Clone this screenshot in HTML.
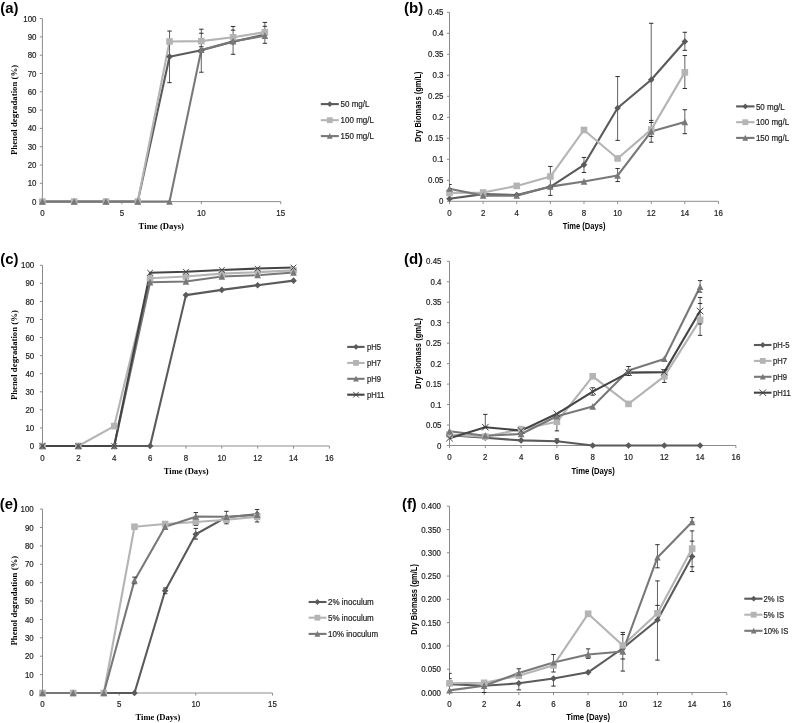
<!DOCTYPE html>
<html><head><meta charset="utf-8"><style>
html,body{margin:0;padding:0;background:#fff;}
svg{display:block;filter:grayscale(1);}

</style></head><body>
<svg width="793" height="723" viewBox="0 0 793 723">
<rect width="793" height="723" fill="#fff"/>
<text x="0.2" y="12.6" textLength="18.20" lengthAdjust="spacingAndGlyphs" font-family="Liberation Sans, sans-serif" font-weight="bold" font-size="14" fill="#000">(a)</text>
<path d="M42.40 18.60V201.60H280.75" stroke="#8c8c8c" stroke-width="1" fill="none"/>
<path d="M39.80 201.60H42.40M39.80 183.30H42.40M39.80 165.00H42.40M39.80 146.70H42.40M39.80 128.40H42.40M39.80 110.10H42.40M39.80 91.80H42.40M39.80 73.50H42.40M39.80 55.20H42.40M39.80 36.90H42.40M39.80 18.60H42.40M42.40 201.60V204.20M121.85 201.60V204.20M201.30 201.60V204.20M280.75 201.60V204.20" stroke="#8c8c8c" stroke-width="1" fill="none"/>
<text transform="translate(36.50 204.68) scale(0.9 1)" text-anchor="end" font-family="Liberation Sans, sans-serif" font-size="8.8" fill="#222222" stroke="#222" stroke-width="0.2">0</text>
<text transform="translate(36.50 186.38) scale(0.9 1)" text-anchor="end" font-family="Liberation Sans, sans-serif" font-size="8.8" fill="#222222" stroke="#222" stroke-width="0.2">10</text>
<text transform="translate(36.50 168.08) scale(0.9 1)" text-anchor="end" font-family="Liberation Sans, sans-serif" font-size="8.8" fill="#222222" stroke="#222" stroke-width="0.2">20</text>
<text transform="translate(36.50 149.78) scale(0.9 1)" text-anchor="end" font-family="Liberation Sans, sans-serif" font-size="8.8" fill="#222222" stroke="#222" stroke-width="0.2">30</text>
<text transform="translate(36.50 131.48) scale(0.9 1)" text-anchor="end" font-family="Liberation Sans, sans-serif" font-size="8.8" fill="#222222" stroke="#222" stroke-width="0.2">40</text>
<text transform="translate(36.50 113.18) scale(0.9 1)" text-anchor="end" font-family="Liberation Sans, sans-serif" font-size="8.8" fill="#222222" stroke="#222" stroke-width="0.2">50</text>
<text transform="translate(36.50 94.88) scale(0.9 1)" text-anchor="end" font-family="Liberation Sans, sans-serif" font-size="8.8" fill="#222222" stroke="#222" stroke-width="0.2">60</text>
<text transform="translate(36.50 76.58) scale(0.9 1)" text-anchor="end" font-family="Liberation Sans, sans-serif" font-size="8.8" fill="#222222" stroke="#222" stroke-width="0.2">70</text>
<text transform="translate(36.50 58.28) scale(0.9 1)" text-anchor="end" font-family="Liberation Sans, sans-serif" font-size="8.8" fill="#222222" stroke="#222" stroke-width="0.2">80</text>
<text transform="translate(36.50 39.98) scale(0.9 1)" text-anchor="end" font-family="Liberation Sans, sans-serif" font-size="8.8" fill="#222222" stroke="#222" stroke-width="0.2">90</text>
<text transform="translate(36.50 21.68) scale(0.9 1)" text-anchor="end" font-family="Liberation Sans, sans-serif" font-size="8.8" fill="#222222" stroke="#222" stroke-width="0.2">100</text>
<text transform="translate(42.40 216.18) scale(0.9 1)" text-anchor="middle" font-family="Liberation Sans, sans-serif" font-size="8.8" fill="#222222" stroke="#222" stroke-width="0.2">0</text>
<text transform="translate(121.85 216.18) scale(0.9 1)" text-anchor="middle" font-family="Liberation Sans, sans-serif" font-size="8.8" fill="#222222" stroke="#222" stroke-width="0.2">5</text>
<text transform="translate(201.30 216.18) scale(0.9 1)" text-anchor="middle" font-family="Liberation Sans, sans-serif" font-size="8.8" fill="#222222" stroke="#222" stroke-width="0.2">10</text>
<text transform="translate(280.75 216.18) scale(0.9 1)" text-anchor="middle" font-family="Liberation Sans, sans-serif" font-size="8.8" fill="#222222" stroke="#222" stroke-width="0.2">15</text>
<text x="138.60" y="229.07" textLength="45.40" lengthAdjust="spacingAndGlyphs" font-family="Liberation Serif, serif" font-weight="bold" font-size="8.7" fill="#000">Time (Days)</text>
<text transform="translate(17.44 109.95) rotate(-90)" x="-45.15" y="0" textLength="90.30" lengthAdjust="spacingAndGlyphs" font-family="Liberation Serif, serif" font-weight="bold" font-size="9.2" fill="#000">Phenol degradation (%)</text>
<polyline points="42.40,201.60 74.18,201.60 105.96,201.60 137.74,201.60 169.52,56.66 201.30,50.26 233.08,41.84 264.86,34.52" stroke="#5a5a5a" stroke-width="2.1" fill="none" stroke-linejoin="round"/>
<polyline points="42.40,201.60 74.18,201.60 105.96,201.60 137.74,201.60 169.52,41.47 201.30,41.11 233.08,37.27 264.86,32.14" stroke="#b4b4b4" stroke-width="2.1" fill="none" stroke-linejoin="round"/>
<polyline points="42.40,201.60 74.18,201.60 105.96,201.60 137.74,201.60 169.52,201.60 201.30,49.89 233.08,41.29 264.86,35.80" stroke="#787878" stroke-width="2.1" fill="none" stroke-linejoin="round"/>
<path d="M169.52 31.04V82.65M201.30 29.21V72.22M233.08 26.47V54.28M264.86 22.44V43.30" stroke="#3a3a3a" stroke-width="0.8" fill="none"/>
<path d="M167.32 82.65H171.72M167.32 31.04H171.72M199.10 72.22H203.50M199.10 33.24H203.50M199.10 29.21H203.50M199.10 46.78H203.50M230.88 54.28H235.28M230.88 30.13H235.28M230.88 26.47H235.28M262.66 43.30H267.06M262.66 26.29H267.06M262.66 22.44H267.06" stroke="#1a1a1a" stroke-width="0.9" fill="none"/>
<path d="M42.40 198.30L45.70 201.60L42.40 204.90L39.10 201.60Z" fill="#5a5a5a"/>
<path d="M74.18 198.30L77.48 201.60L74.18 204.90L70.88 201.60Z" fill="#5a5a5a"/>
<path d="M105.96 198.30L109.26 201.60L105.96 204.90L102.66 201.60Z" fill="#5a5a5a"/>
<path d="M137.74 198.30L141.04 201.60L137.74 204.90L134.44 201.60Z" fill="#5a5a5a"/>
<path d="M169.52 53.36L172.82 56.66L169.52 59.96L166.22 56.66Z" fill="#5a5a5a"/>
<path d="M201.30 46.96L204.60 50.26L201.30 53.56L198.00 50.26Z" fill="#5a5a5a"/>
<path d="M233.08 38.54L236.38 41.84L233.08 45.14L229.78 41.84Z" fill="#5a5a5a"/>
<path d="M264.86 31.22L268.16 34.52L264.86 37.82L261.56 34.52Z" fill="#5a5a5a"/>
<rect x="39.10" y="198.30" width="6.60" height="6.60" fill="#b4b4b4"/>
<rect x="70.88" y="198.30" width="6.60" height="6.60" fill="#b4b4b4"/>
<rect x="102.66" y="198.30" width="6.60" height="6.60" fill="#b4b4b4"/>
<rect x="134.44" y="198.30" width="6.60" height="6.60" fill="#b4b4b4"/>
<rect x="166.22" y="38.17" width="6.60" height="6.60" fill="#b4b4b4"/>
<rect x="198.00" y="37.81" width="6.60" height="6.60" fill="#b4b4b4"/>
<rect x="229.78" y="33.97" width="6.60" height="6.60" fill="#b4b4b4"/>
<rect x="261.56" y="28.84" width="6.60" height="6.60" fill="#b4b4b4"/>
<path d="M42.40 198.13L45.70 204.73L39.10 204.73Z" fill="#787878"/>
<path d="M74.18 198.13L77.48 204.73L70.88 204.73Z" fill="#787878"/>
<path d="M105.96 198.13L109.26 204.73L102.66 204.73Z" fill="#787878"/>
<path d="M137.74 198.13L141.04 204.73L134.44 204.73Z" fill="#787878"/>
<path d="M169.52 198.13L172.82 204.73L166.22 204.73Z" fill="#787878"/>
<path d="M201.30 46.43L204.60 53.03L198.00 53.03Z" fill="#787878"/>
<path d="M233.08 37.83L236.38 44.43L229.78 44.43Z" fill="#787878"/>
<path d="M264.86 32.34L268.16 38.94L261.56 38.94Z" fill="#787878"/>
<path d="M320.80 104.10H338.80" stroke="#5a5a5a" stroke-width="2.1"/>
<path d="M329.80 101.20L332.70 104.10L329.80 107.00L326.90 104.10Z" fill="#5a5a5a"/>
<text transform="translate(340.60 107.25) scale(0.89 1)" font-family="Liberation Sans, sans-serif" font-size="9" fill="#222222" stroke="#222" stroke-width="0.2">50 mg/L</text>
<path d="M320.80 120.20H338.80" stroke="#b4b4b4" stroke-width="2.1"/>
<rect x="326.90" y="117.30" width="5.80" height="5.80" fill="#b4b4b4"/>
<text transform="translate(340.60 123.35) scale(0.89 1)" font-family="Liberation Sans, sans-serif" font-size="9" fill="#222222" stroke="#222" stroke-width="0.2">100 mg/L</text>
<path d="M320.80 136.10H338.80" stroke="#787878" stroke-width="2.1"/>
<path d="M329.80 133.06L332.70 138.85L326.90 138.85Z" fill="#787878"/>
<text transform="translate(340.60 139.25) scale(0.89 1)" font-family="Liberation Sans, sans-serif" font-size="9" fill="#222222" stroke="#222" stroke-width="0.2">150 mg/L</text>
<text x="404.0" y="13.0" textLength="19.30" lengthAdjust="spacingAndGlyphs" font-family="Liberation Sans, sans-serif" font-weight="bold" font-size="14" fill="#000">(b)</text>
<path d="M449.50 12.30V201.30H718.46" stroke="#8c8c8c" stroke-width="1" fill="none"/>
<path d="M446.90 201.30H449.50M446.90 180.30H449.50M446.90 159.30H449.50M446.90 138.30H449.50M446.90 117.30H449.50M446.90 96.30H449.50M446.90 75.30H449.50M446.90 54.30H449.50M446.90 33.30H449.50M446.90 12.30H449.50M449.50 201.30V203.90M483.12 201.30V203.90M516.74 201.30V203.90M550.36 201.30V203.90M583.98 201.30V203.90M617.60 201.30V203.90M651.22 201.30V203.90M684.84 201.30V203.90M718.46 201.30V203.90" stroke="#8c8c8c" stroke-width="1" fill="none"/>
<text transform="translate(443.50 204.38) scale(0.9 1)" text-anchor="end" font-family="Liberation Sans, sans-serif" font-size="8.8" fill="#222222" stroke="#222" stroke-width="0.2">0</text>
<text transform="translate(443.50 183.38) scale(0.9 1)" text-anchor="end" font-family="Liberation Sans, sans-serif" font-size="8.8" fill="#222222" stroke="#222" stroke-width="0.2">0.05</text>
<text transform="translate(443.50 162.38) scale(0.9 1)" text-anchor="end" font-family="Liberation Sans, sans-serif" font-size="8.8" fill="#222222" stroke="#222" stroke-width="0.2">0.1</text>
<text transform="translate(443.50 141.38) scale(0.9 1)" text-anchor="end" font-family="Liberation Sans, sans-serif" font-size="8.8" fill="#222222" stroke="#222" stroke-width="0.2">0.15</text>
<text transform="translate(443.50 120.38) scale(0.9 1)" text-anchor="end" font-family="Liberation Sans, sans-serif" font-size="8.8" fill="#222222" stroke="#222" stroke-width="0.2">0.2</text>
<text transform="translate(443.50 99.38) scale(0.9 1)" text-anchor="end" font-family="Liberation Sans, sans-serif" font-size="8.8" fill="#222222" stroke="#222" stroke-width="0.2">0.25</text>
<text transform="translate(443.50 78.38) scale(0.9 1)" text-anchor="end" font-family="Liberation Sans, sans-serif" font-size="8.8" fill="#222222" stroke="#222" stroke-width="0.2">0.3</text>
<text transform="translate(443.50 57.38) scale(0.9 1)" text-anchor="end" font-family="Liberation Sans, sans-serif" font-size="8.8" fill="#222222" stroke="#222" stroke-width="0.2">0.35</text>
<text transform="translate(443.50 36.38) scale(0.9 1)" text-anchor="end" font-family="Liberation Sans, sans-serif" font-size="8.8" fill="#222222" stroke="#222" stroke-width="0.2">0.4</text>
<text transform="translate(443.50 15.38) scale(0.9 1)" text-anchor="end" font-family="Liberation Sans, sans-serif" font-size="8.8" fill="#222222" stroke="#222" stroke-width="0.2">0.45</text>
<text transform="translate(449.50 216.38) scale(0.9 1)" text-anchor="middle" font-family="Liberation Sans, sans-serif" font-size="8.8" fill="#222222" stroke="#222" stroke-width="0.2">0</text>
<text transform="translate(483.12 216.38) scale(0.9 1)" text-anchor="middle" font-family="Liberation Sans, sans-serif" font-size="8.8" fill="#222222" stroke="#222" stroke-width="0.2">2</text>
<text transform="translate(516.74 216.38) scale(0.9 1)" text-anchor="middle" font-family="Liberation Sans, sans-serif" font-size="8.8" fill="#222222" stroke="#222" stroke-width="0.2">4</text>
<text transform="translate(550.36 216.38) scale(0.9 1)" text-anchor="middle" font-family="Liberation Sans, sans-serif" font-size="8.8" fill="#222222" stroke="#222" stroke-width="0.2">6</text>
<text transform="translate(583.98 216.38) scale(0.9 1)" text-anchor="middle" font-family="Liberation Sans, sans-serif" font-size="8.8" fill="#222222" stroke="#222" stroke-width="0.2">8</text>
<text transform="translate(617.60 216.38) scale(0.9 1)" text-anchor="middle" font-family="Liberation Sans, sans-serif" font-size="8.8" fill="#222222" stroke="#222" stroke-width="0.2">10</text>
<text transform="translate(651.22 216.38) scale(0.9 1)" text-anchor="middle" font-family="Liberation Sans, sans-serif" font-size="8.8" fill="#222222" stroke="#222" stroke-width="0.2">12</text>
<text transform="translate(684.84 216.38) scale(0.9 1)" text-anchor="middle" font-family="Liberation Sans, sans-serif" font-size="8.8" fill="#222222" stroke="#222" stroke-width="0.2">14</text>
<text transform="translate(718.46 216.38) scale(0.9 1)" text-anchor="middle" font-family="Liberation Sans, sans-serif" font-size="8.8" fill="#222222" stroke="#222" stroke-width="0.2">16</text>
<text x="562.80" y="229.47" textLength="42.60" lengthAdjust="spacingAndGlyphs" font-family="Liberation Sans, sans-serif" font-weight="bold" font-size="8.4" fill="#000">Time (Days)</text>
<text transform="translate(421.07 106.75) rotate(-90)" x="-35.35" y="0" textLength="70.70" lengthAdjust="spacingAndGlyphs" font-family="Liberation Sans, sans-serif" font-weight="bold" font-size="8.4" fill="#000">Dry Biomass (gm/L)</text>
<polyline points="449.50,198.78 483.12,194.16 516.74,195.00 550.36,186.81 583.98,164.76 617.60,108.06 651.22,79.71 684.84,41.49" stroke="#5a5a5a" stroke-width="2.1" fill="none" stroke-linejoin="round"/>
<polyline points="449.50,192.90 483.12,192.48 516.74,185.89 550.36,176.52 583.98,129.98 617.60,158.46 651.22,129.61 684.84,72.36" stroke="#b4b4b4" stroke-width="2.1" fill="none" stroke-linejoin="round"/>
<polyline points="449.50,188.70 483.12,195.63 516.74,195.63 550.36,186.60 583.98,181.56 617.60,175.51 651.22,131.58 684.84,122.09" stroke="#787878" stroke-width="2.1" fill="none" stroke-linejoin="round"/>
<path d="M449.50 184.50V188.70M550.36 166.44V195.42M583.98 157.41V172.49M617.60 76.56V140.40M617.60 168.54V181.56M651.22 23.30V142.21M684.84 32.29V50.31M684.84 55.56V88.49M684.84 109.74V133.68" stroke="#3a3a3a" stroke-width="0.8" fill="none"/>
<path d="M449.50 184.50H451.70M449.50 188.70H451.70M548.16 166.44H552.56M548.16 195.42H552.56M581.78 157.41H586.18M581.78 172.49H586.18M615.40 76.56H619.80M615.40 140.40H619.80M615.40 168.54H619.80M615.40 181.56H619.80M649.02 23.30H653.42M649.02 120.41H653.42M649.02 122.51H653.42M649.02 136.41H653.42M649.02 142.21H653.42M682.64 32.29H687.04M682.64 50.31H687.04M682.64 55.56H687.04M682.64 88.49H687.04M682.64 109.74H687.04M682.64 133.68H687.04" stroke="#1a1a1a" stroke-width="0.9" fill="none"/>
<path d="M449.50 195.48L452.80 198.78L449.50 202.08L446.20 198.78Z" fill="#5a5a5a"/>
<path d="M483.12 190.86L486.42 194.16L483.12 197.46L479.82 194.16Z" fill="#5a5a5a"/>
<path d="M516.74 191.70L520.04 195.00L516.74 198.30L513.44 195.00Z" fill="#5a5a5a"/>
<path d="M550.36 183.51L553.66 186.81L550.36 190.11L547.06 186.81Z" fill="#5a5a5a"/>
<path d="M583.98 161.46L587.28 164.76L583.98 168.06L580.68 164.76Z" fill="#5a5a5a"/>
<path d="M617.60 104.76L620.90 108.06L617.60 111.36L614.30 108.06Z" fill="#5a5a5a"/>
<path d="M651.22 76.41L654.52 79.71L651.22 83.01L647.92 79.71Z" fill="#5a5a5a"/>
<path d="M684.84 38.19L688.14 41.49L684.84 44.79L681.54 41.49Z" fill="#5a5a5a"/>
<rect x="446.20" y="189.60" width="6.60" height="6.60" fill="#b4b4b4"/>
<rect x="479.82" y="189.18" width="6.60" height="6.60" fill="#b4b4b4"/>
<rect x="513.44" y="182.59" width="6.60" height="6.60" fill="#b4b4b4"/>
<rect x="547.06" y="173.22" width="6.60" height="6.60" fill="#b4b4b4"/>
<rect x="580.68" y="126.68" width="6.60" height="6.60" fill="#b4b4b4"/>
<rect x="614.30" y="155.16" width="6.60" height="6.60" fill="#b4b4b4"/>
<rect x="647.92" y="126.31" width="6.60" height="6.60" fill="#b4b4b4"/>
<rect x="681.54" y="69.06" width="6.60" height="6.60" fill="#b4b4b4"/>
<path d="M449.50 185.24L452.80 191.84L446.20 191.84Z" fill="#787878"/>
<path d="M483.12 192.17L486.42 198.77L479.82 198.77Z" fill="#787878"/>
<path d="M516.74 192.17L520.04 198.77L513.44 198.77Z" fill="#787878"/>
<path d="M550.36 183.14L553.66 189.74L547.06 189.74Z" fill="#787878"/>
<path d="M583.98 178.09L587.28 184.69L580.68 184.69Z" fill="#787878"/>
<path d="M617.60 172.05L620.90 178.65L614.30 178.65Z" fill="#787878"/>
<path d="M651.22 128.12L654.52 134.72L647.92 134.72Z" fill="#787878"/>
<path d="M684.84 118.62L688.14 125.22L681.54 125.22Z" fill="#787878"/>
<path d="M736.10 106.40H754.50" stroke="#5a5a5a" stroke-width="2.1"/>
<path d="M745.30 103.50L748.20 106.40L745.30 109.30L742.40 106.40Z" fill="#5a5a5a"/>
<text transform="translate(755.90 109.55) scale(0.89 1)" font-family="Liberation Sans, sans-serif" font-size="9" fill="#222222" stroke="#222" stroke-width="0.2">50 mg/L</text>
<path d="M736.10 122.20H754.50" stroke="#b4b4b4" stroke-width="2.1"/>
<rect x="742.40" y="119.30" width="5.80" height="5.80" fill="#b4b4b4"/>
<text transform="translate(755.90 125.35) scale(0.89 1)" font-family="Liberation Sans, sans-serif" font-size="9" fill="#222222" stroke="#222" stroke-width="0.2">100 mg/L</text>
<path d="M736.10 137.90H754.50" stroke="#787878" stroke-width="2.1"/>
<path d="M745.30 134.86L748.20 140.66L742.40 140.66Z" fill="#787878"/>
<text transform="translate(755.90 141.05) scale(0.89 1)" font-family="Liberation Sans, sans-serif" font-size="9" fill="#222222" stroke="#222" stroke-width="0.2">150 mg/L</text>
<text x="0.2" y="264.0" textLength="18.20" lengthAdjust="spacingAndGlyphs" font-family="Liberation Sans, sans-serif" font-weight="bold" font-size="14" fill="#000">(c)</text>
<path d="M42.50 265.30V446.00H329.38" stroke="#8c8c8c" stroke-width="1" fill="none"/>
<path d="M39.90 446.00H42.50M39.90 427.93H42.50M39.90 409.86H42.50M39.90 391.79H42.50M39.90 373.72H42.50M39.90 355.65H42.50M39.90 337.58H42.50M39.90 319.51H42.50M39.90 301.44H42.50M39.90 283.37H42.50M39.90 265.30H42.50M42.50 446.00V448.60M78.36 446.00V448.60M114.22 446.00V448.60M150.08 446.00V448.60M185.94 446.00V448.60M221.80 446.00V448.60M257.66 446.00V448.60M293.52 446.00V448.60M329.38 446.00V448.60" stroke="#8c8c8c" stroke-width="1" fill="none"/>
<text transform="translate(34.20 449.08) scale(0.9 1)" text-anchor="end" font-family="Liberation Sans, sans-serif" font-size="8.8" fill="#222222" stroke="#222" stroke-width="0.2">0</text>
<text transform="translate(34.20 431.01) scale(0.9 1)" text-anchor="end" font-family="Liberation Sans, sans-serif" font-size="8.8" fill="#222222" stroke="#222" stroke-width="0.2">10</text>
<text transform="translate(34.20 412.94) scale(0.9 1)" text-anchor="end" font-family="Liberation Sans, sans-serif" font-size="8.8" fill="#222222" stroke="#222" stroke-width="0.2">20</text>
<text transform="translate(34.20 394.87) scale(0.9 1)" text-anchor="end" font-family="Liberation Sans, sans-serif" font-size="8.8" fill="#222222" stroke="#222" stroke-width="0.2">30</text>
<text transform="translate(34.20 376.80) scale(0.9 1)" text-anchor="end" font-family="Liberation Sans, sans-serif" font-size="8.8" fill="#222222" stroke="#222" stroke-width="0.2">40</text>
<text transform="translate(34.20 358.73) scale(0.9 1)" text-anchor="end" font-family="Liberation Sans, sans-serif" font-size="8.8" fill="#222222" stroke="#222" stroke-width="0.2">50</text>
<text transform="translate(34.20 340.66) scale(0.9 1)" text-anchor="end" font-family="Liberation Sans, sans-serif" font-size="8.8" fill="#222222" stroke="#222" stroke-width="0.2">60</text>
<text transform="translate(34.20 322.59) scale(0.9 1)" text-anchor="end" font-family="Liberation Sans, sans-serif" font-size="8.8" fill="#222222" stroke="#222" stroke-width="0.2">70</text>
<text transform="translate(34.20 304.52) scale(0.9 1)" text-anchor="end" font-family="Liberation Sans, sans-serif" font-size="8.8" fill="#222222" stroke="#222" stroke-width="0.2">80</text>
<text transform="translate(34.20 286.45) scale(0.9 1)" text-anchor="end" font-family="Liberation Sans, sans-serif" font-size="8.8" fill="#222222" stroke="#222" stroke-width="0.2">90</text>
<text transform="translate(34.20 268.38) scale(0.9 1)" text-anchor="end" font-family="Liberation Sans, sans-serif" font-size="8.8" fill="#222222" stroke="#222" stroke-width="0.2">100</text>
<text transform="translate(42.50 460.58) scale(0.9 1)" text-anchor="middle" font-family="Liberation Sans, sans-serif" font-size="8.8" fill="#222222" stroke="#222" stroke-width="0.2">0</text>
<text transform="translate(78.36 460.58) scale(0.9 1)" text-anchor="middle" font-family="Liberation Sans, sans-serif" font-size="8.8" fill="#222222" stroke="#222" stroke-width="0.2">2</text>
<text transform="translate(114.22 460.58) scale(0.9 1)" text-anchor="middle" font-family="Liberation Sans, sans-serif" font-size="8.8" fill="#222222" stroke="#222" stroke-width="0.2">4</text>
<text transform="translate(150.08 460.58) scale(0.9 1)" text-anchor="middle" font-family="Liberation Sans, sans-serif" font-size="8.8" fill="#222222" stroke="#222" stroke-width="0.2">6</text>
<text transform="translate(185.94 460.58) scale(0.9 1)" text-anchor="middle" font-family="Liberation Sans, sans-serif" font-size="8.8" fill="#222222" stroke="#222" stroke-width="0.2">8</text>
<text transform="translate(221.80 460.58) scale(0.9 1)" text-anchor="middle" font-family="Liberation Sans, sans-serif" font-size="8.8" fill="#222222" stroke="#222" stroke-width="0.2">10</text>
<text transform="translate(257.66 460.58) scale(0.9 1)" text-anchor="middle" font-family="Liberation Sans, sans-serif" font-size="8.8" fill="#222222" stroke="#222" stroke-width="0.2">12</text>
<text transform="translate(293.52 460.58) scale(0.9 1)" text-anchor="middle" font-family="Liberation Sans, sans-serif" font-size="8.8" fill="#222222" stroke="#222" stroke-width="0.2">14</text>
<text transform="translate(329.38 460.58) scale(0.9 1)" text-anchor="middle" font-family="Liberation Sans, sans-serif" font-size="8.8" fill="#222222" stroke="#222" stroke-width="0.2">16</text>
<text x="163.70" y="474.07" textLength="45.00" lengthAdjust="spacingAndGlyphs" font-family="Liberation Serif, serif" font-weight="bold" font-size="8.7" fill="#000">Time (Days)</text>
<text transform="translate(17.44 355.10) rotate(-90)" x="-45.00" y="0" textLength="90.00" lengthAdjust="spacingAndGlyphs" font-family="Liberation Serif, serif" font-weight="bold" font-size="9.2" fill="#000">Phenol degradation (%)</text>
<polyline points="42.50,446.00 78.36,446.00 114.22,446.00 150.08,446.00 185.94,295.12 221.80,289.88 257.66,285.18 293.52,280.66" stroke="#5a5a5a" stroke-width="2.1" fill="none" stroke-linejoin="round"/>
<polyline points="42.50,446.00 78.36,446.00 114.22,426.12 150.08,278.31 185.94,276.50 221.80,273.61 257.66,272.17 293.52,270.36" stroke="#b4b4b4" stroke-width="2.1" fill="none" stroke-linejoin="round"/>
<polyline points="42.50,446.00 78.36,446.00 114.22,446.00 150.08,282.29 185.94,281.56 221.80,276.50 257.66,275.24 293.52,272.53" stroke="#787878" stroke-width="2.1" fill="none" stroke-linejoin="round"/>
<polyline points="42.50,446.00 78.36,446.00 114.22,446.00 150.08,272.71 185.94,271.81 221.80,270.00 257.66,268.55 293.52,267.47" stroke="#444444" stroke-width="2.1" fill="none" stroke-linejoin="round"/>
<path d="M42.50 442.70L45.80 446.00L42.50 449.30L39.20 446.00Z" fill="#5a5a5a"/>
<path d="M78.36 442.70L81.66 446.00L78.36 449.30L75.06 446.00Z" fill="#5a5a5a"/>
<path d="M114.22 442.70L117.52 446.00L114.22 449.30L110.92 446.00Z" fill="#5a5a5a"/>
<path d="M150.08 442.70L153.38 446.00L150.08 449.30L146.78 446.00Z" fill="#5a5a5a"/>
<path d="M185.94 291.82L189.24 295.12L185.94 298.42L182.64 295.12Z" fill="#5a5a5a"/>
<path d="M221.80 286.58L225.10 289.88L221.80 293.18L218.50 289.88Z" fill="#5a5a5a"/>
<path d="M257.66 281.88L260.96 285.18L257.66 288.48L254.36 285.18Z" fill="#5a5a5a"/>
<path d="M293.52 277.36L296.82 280.66L293.52 283.96L290.22 280.66Z" fill="#5a5a5a"/>
<rect x="39.20" y="442.70" width="6.60" height="6.60" fill="#b4b4b4"/>
<rect x="75.06" y="442.70" width="6.60" height="6.60" fill="#b4b4b4"/>
<rect x="110.92" y="422.82" width="6.60" height="6.60" fill="#b4b4b4"/>
<rect x="146.78" y="275.01" width="6.60" height="6.60" fill="#b4b4b4"/>
<rect x="182.64" y="273.20" width="6.60" height="6.60" fill="#b4b4b4"/>
<rect x="218.50" y="270.31" width="6.60" height="6.60" fill="#b4b4b4"/>
<rect x="254.36" y="268.87" width="6.60" height="6.60" fill="#b4b4b4"/>
<rect x="290.22" y="267.06" width="6.60" height="6.60" fill="#b4b4b4"/>
<path d="M42.50 442.54L45.80 449.13L39.20 449.13Z" fill="#787878"/>
<path d="M78.36 442.54L81.66 449.13L75.06 449.13Z" fill="#787878"/>
<path d="M114.22 442.54L117.52 449.13L110.92 449.13Z" fill="#787878"/>
<path d="M150.08 278.82L153.38 285.42L146.78 285.42Z" fill="#787878"/>
<path d="M185.94 278.10L189.24 284.70L182.64 284.70Z" fill="#787878"/>
<path d="M221.80 273.04L225.10 279.64L218.50 279.64Z" fill="#787878"/>
<path d="M257.66 271.77L260.96 278.37L254.36 278.37Z" fill="#787878"/>
<path d="M293.52 269.06L296.82 275.66L290.22 275.66Z" fill="#787878"/>
<path d="M39.70 443.20L45.30 448.80M45.30 443.20L39.70 448.80" stroke="#444444" stroke-width="1" fill="none"/>
<path d="M75.56 443.20L81.16 448.80M81.16 443.20L75.56 448.80" stroke="#444444" stroke-width="1" fill="none"/>
<path d="M111.42 443.20L117.02 448.80M117.02 443.20L111.42 448.80" stroke="#444444" stroke-width="1" fill="none"/>
<path d="M147.28 269.91L152.88 275.51M152.88 269.91L147.28 275.51" stroke="#444444" stroke-width="1" fill="none"/>
<path d="M183.14 269.01L188.74 274.61M188.74 269.01L183.14 274.61" stroke="#444444" stroke-width="1" fill="none"/>
<path d="M219.00 267.20L224.60 272.80M224.60 267.20L219.00 272.80" stroke="#444444" stroke-width="1" fill="none"/>
<path d="M254.86 265.75L260.46 271.35M260.46 265.75L254.86 271.35" stroke="#444444" stroke-width="1" fill="none"/>
<path d="M290.72 264.67L296.32 270.27M296.32 264.67L290.72 270.27" stroke="#444444" stroke-width="1" fill="none"/>
<path d="M347.20 346.90H364.60" stroke="#5a5a5a" stroke-width="2.1"/>
<path d="M356.00 344.00L358.90 346.90L356.00 349.80L353.10 346.90Z" fill="#5a5a5a"/>
<text transform="translate(366.90 349.91) scale(0.89 1)" font-family="Liberation Sans, sans-serif" font-size="8.6" fill="#222222" stroke="#222" stroke-width="0.2">pH5</text>
<path d="M347.20 362.90H364.60" stroke="#b4b4b4" stroke-width="2.1"/>
<rect x="353.10" y="360.00" width="5.80" height="5.80" fill="#b4b4b4"/>
<text transform="translate(366.90 365.91) scale(0.89 1)" font-family="Liberation Sans, sans-serif" font-size="8.6" fill="#222222" stroke="#222" stroke-width="0.2">pH7</text>
<path d="M347.20 378.80H364.60" stroke="#787878" stroke-width="2.1"/>
<path d="M356.00 375.75L358.90 381.56L353.10 381.56Z" fill="#787878"/>
<text transform="translate(366.90 381.81) scale(0.89 1)" font-family="Liberation Sans, sans-serif" font-size="8.6" fill="#222222" stroke="#222" stroke-width="0.2">pH9</text>
<path d="M347.20 394.70H364.60" stroke="#444444" stroke-width="2.1"/>
<path d="M353.20 391.90L358.80 397.50M358.80 391.90L353.20 397.50" stroke="#444444" stroke-width="1" fill="none"/>
<text transform="translate(366.90 397.71) scale(0.89 1)" font-family="Liberation Sans, sans-serif" font-size="8.6" fill="#222222" stroke="#222" stroke-width="0.2">pH11</text>
<text x="403.9" y="263.6" textLength="19.20" lengthAdjust="spacingAndGlyphs" font-family="Liberation Sans, sans-serif" font-weight="bold" font-size="14" fill="#000">(d)</text>
<path d="M449.50 261.30V445.50H735.90" stroke="#8c8c8c" stroke-width="1" fill="none"/>
<path d="M446.90 445.50H449.50M446.90 425.03H449.50M446.90 404.57H449.50M446.90 384.10H449.50M446.90 363.63H449.50M446.90 343.17H449.50M446.90 322.70H449.50M446.90 302.23H449.50M446.90 281.77H449.50M446.90 261.30H449.50M449.50 445.50V448.10M485.30 445.50V448.10M521.10 445.50V448.10M556.90 445.50V448.10M592.70 445.50V448.10M628.50 445.50V448.10M664.30 445.50V448.10M700.10 445.50V448.10M735.90 445.50V448.10" stroke="#8c8c8c" stroke-width="1" fill="none"/>
<text transform="translate(441.50 448.58) scale(0.9 1)" text-anchor="end" font-family="Liberation Sans, sans-serif" font-size="8.8" fill="#222222" stroke="#222" stroke-width="0.2">0</text>
<text transform="translate(441.50 428.11) scale(0.9 1)" text-anchor="end" font-family="Liberation Sans, sans-serif" font-size="8.8" fill="#222222" stroke="#222" stroke-width="0.2">0.05</text>
<text transform="translate(441.50 407.65) scale(0.9 1)" text-anchor="end" font-family="Liberation Sans, sans-serif" font-size="8.8" fill="#222222" stroke="#222" stroke-width="0.2">0.1</text>
<text transform="translate(441.50 387.18) scale(0.9 1)" text-anchor="end" font-family="Liberation Sans, sans-serif" font-size="8.8" fill="#222222" stroke="#222" stroke-width="0.2">0.15</text>
<text transform="translate(441.50 366.71) scale(0.9 1)" text-anchor="end" font-family="Liberation Sans, sans-serif" font-size="8.8" fill="#222222" stroke="#222" stroke-width="0.2">0.2</text>
<text transform="translate(441.50 346.25) scale(0.9 1)" text-anchor="end" font-family="Liberation Sans, sans-serif" font-size="8.8" fill="#222222" stroke="#222" stroke-width="0.2">0.25</text>
<text transform="translate(441.50 325.78) scale(0.9 1)" text-anchor="end" font-family="Liberation Sans, sans-serif" font-size="8.8" fill="#222222" stroke="#222" stroke-width="0.2">0.3</text>
<text transform="translate(441.50 305.31) scale(0.9 1)" text-anchor="end" font-family="Liberation Sans, sans-serif" font-size="8.8" fill="#222222" stroke="#222" stroke-width="0.2">0.35</text>
<text transform="translate(441.50 284.85) scale(0.9 1)" text-anchor="end" font-family="Liberation Sans, sans-serif" font-size="8.8" fill="#222222" stroke="#222" stroke-width="0.2">0.4</text>
<text transform="translate(441.50 264.38) scale(0.9 1)" text-anchor="end" font-family="Liberation Sans, sans-serif" font-size="8.8" fill="#222222" stroke="#222" stroke-width="0.2">0.45</text>
<text transform="translate(449.50 460.38) scale(0.9 1)" text-anchor="middle" font-family="Liberation Sans, sans-serif" font-size="8.8" fill="#222222" stroke="#222" stroke-width="0.2">0</text>
<text transform="translate(485.30 460.38) scale(0.9 1)" text-anchor="middle" font-family="Liberation Sans, sans-serif" font-size="8.8" fill="#222222" stroke="#222" stroke-width="0.2">2</text>
<text transform="translate(521.10 460.38) scale(0.9 1)" text-anchor="middle" font-family="Liberation Sans, sans-serif" font-size="8.8" fill="#222222" stroke="#222" stroke-width="0.2">4</text>
<text transform="translate(556.90 460.38) scale(0.9 1)" text-anchor="middle" font-family="Liberation Sans, sans-serif" font-size="8.8" fill="#222222" stroke="#222" stroke-width="0.2">6</text>
<text transform="translate(592.70 460.38) scale(0.9 1)" text-anchor="middle" font-family="Liberation Sans, sans-serif" font-size="8.8" fill="#222222" stroke="#222" stroke-width="0.2">8</text>
<text transform="translate(628.50 460.38) scale(0.9 1)" text-anchor="middle" font-family="Liberation Sans, sans-serif" font-size="8.8" fill="#222222" stroke="#222" stroke-width="0.2">10</text>
<text transform="translate(664.30 460.38) scale(0.9 1)" text-anchor="middle" font-family="Liberation Sans, sans-serif" font-size="8.8" fill="#222222" stroke="#222" stroke-width="0.2">12</text>
<text transform="translate(700.10 460.38) scale(0.9 1)" text-anchor="middle" font-family="Liberation Sans, sans-serif" font-size="8.8" fill="#222222" stroke="#222" stroke-width="0.2">14</text>
<text transform="translate(735.90 460.38) scale(0.9 1)" text-anchor="middle" font-family="Liberation Sans, sans-serif" font-size="8.8" fill="#222222" stroke="#222" stroke-width="0.2">16</text>
<text x="571.50" y="473.77" textLength="43.40" lengthAdjust="spacingAndGlyphs" font-family="Liberation Sans, sans-serif" font-weight="bold" font-size="8.4" fill="#000">Time (Days)</text>
<text transform="translate(421.07 353.40) rotate(-90)" x="-35.50" y="0" textLength="71.00" lengthAdjust="spacingAndGlyphs" font-family="Liberation Sans, sans-serif" font-weight="bold" font-size="8.4" fill="#000">Dry Biomass (gm/L)</text>
<polyline points="449.50,435.27 485.30,437.80 521.10,440.38 556.90,441.20 592.70,445.50 628.50,445.50 664.30,445.50 700.10,445.50" stroke="#5a5a5a" stroke-width="2.1" fill="none" stroke-linejoin="round"/>
<polyline points="449.50,434.61 485.30,436.62 521.10,429.13 556.90,421.76 592.70,376.32 628.50,403.91 664.30,376.32 700.10,319.83" stroke="#b4b4b4" stroke-width="2.1" fill="none" stroke-linejoin="round"/>
<polyline points="449.50,431.30 485.30,435.68 521.10,434.04 556.90,416.31 592.70,406.61 628.50,370.43 664.30,358.93 700.10,286.84" stroke="#787878" stroke-width="2.1" fill="none" stroke-linejoin="round"/>
<polyline points="449.50,438.13 485.30,427.20 521.10,430.60 556.90,413.82 592.70,391.59 628.50,372.64 664.30,372.11 700.10,311.03" stroke="#444444" stroke-width="2.1" fill="none" stroke-linejoin="round"/>
<path d="M485.30 414.39V427.20M556.90 421.76V430.89M556.90 438.95V441.20M592.70 387.78V395.15M628.50 366.50V375.50M664.30 369.77V382.46M700.10 280.62V292.12M700.10 297.44V335.39" stroke="#3a3a3a" stroke-width="0.8" fill="none"/>
<path d="M483.10 414.39H487.50M483.10 427.20H487.50M554.70 421.76H559.10M554.70 430.89H559.10M554.70 441.20H559.10M554.70 438.95H559.10M590.50 387.78H594.90M590.50 395.15H594.90M626.30 366.50H630.70M626.30 375.50H630.70M662.10 369.77H666.50M662.10 382.46H666.50M697.90 280.62H702.30M697.90 292.12H702.30M697.90 297.44H702.30M697.90 303.46H702.30M697.90 323.93H702.30M697.90 335.39H702.30" stroke="#1a1a1a" stroke-width="0.9" fill="none"/>
<path d="M449.50 431.97L452.80 435.27L449.50 438.57L446.20 435.27Z" fill="#5a5a5a"/>
<path d="M485.30 434.50L488.60 437.80L485.30 441.10L482.00 437.80Z" fill="#5a5a5a"/>
<path d="M521.10 437.08L524.40 440.38L521.10 443.68L517.80 440.38Z" fill="#5a5a5a"/>
<path d="M556.90 437.90L560.20 441.20L556.90 444.50L553.60 441.20Z" fill="#5a5a5a"/>
<path d="M592.70 442.20L596.00 445.50L592.70 448.80L589.40 445.50Z" fill="#5a5a5a"/>
<path d="M628.50 442.20L631.80 445.50L628.50 448.80L625.20 445.50Z" fill="#5a5a5a"/>
<path d="M664.30 442.20L667.60 445.50L664.30 448.80L661.00 445.50Z" fill="#5a5a5a"/>
<path d="M700.10 442.20L703.40 445.50L700.10 448.80L696.80 445.50Z" fill="#5a5a5a"/>
<rect x="446.20" y="431.31" width="6.60" height="6.60" fill="#b4b4b4"/>
<rect x="482.00" y="433.32" width="6.60" height="6.60" fill="#b4b4b4"/>
<rect x="517.80" y="425.83" width="6.60" height="6.60" fill="#b4b4b4"/>
<rect x="553.60" y="418.46" width="6.60" height="6.60" fill="#b4b4b4"/>
<rect x="589.40" y="373.02" width="6.60" height="6.60" fill="#b4b4b4"/>
<rect x="625.20" y="400.61" width="6.60" height="6.60" fill="#b4b4b4"/>
<rect x="661.00" y="373.02" width="6.60" height="6.60" fill="#b4b4b4"/>
<rect x="696.80" y="316.53" width="6.60" height="6.60" fill="#b4b4b4"/>
<path d="M449.50 427.83L452.80 434.43L446.20 434.43Z" fill="#787878"/>
<path d="M485.30 432.21L488.60 438.81L482.00 438.81Z" fill="#787878"/>
<path d="M521.10 430.57L524.40 437.17L517.80 437.17Z" fill="#787878"/>
<path d="M556.90 412.85L560.20 419.45L553.60 419.45Z" fill="#787878"/>
<path d="M592.70 403.15L596.00 409.75L589.40 409.75Z" fill="#787878"/>
<path d="M628.50 366.96L631.80 373.56L625.20 373.56Z" fill="#787878"/>
<path d="M664.30 355.46L667.60 362.06L661.00 362.06Z" fill="#787878"/>
<path d="M700.10 283.38L703.40 289.98L696.80 289.98Z" fill="#787878"/>
<path d="M446.20 434.83L452.80 441.43M452.80 434.83L446.20 441.43" stroke="#444444" stroke-width="1" fill="none"/>
<path d="M482.00 423.90L488.60 430.50M488.60 423.90L482.00 430.50" stroke="#444444" stroke-width="1" fill="none"/>
<path d="M517.80 427.30L524.40 433.90M524.40 427.30L517.80 433.90" stroke="#444444" stroke-width="1" fill="none"/>
<path d="M553.60 410.52L560.20 417.12M560.20 410.52L553.60 417.12" stroke="#444444" stroke-width="1" fill="none"/>
<path d="M589.40 388.29L596.00 394.89M596.00 388.29L589.40 394.89" stroke="#444444" stroke-width="1" fill="none"/>
<path d="M625.20 369.34L631.80 375.94M631.80 369.34L625.20 375.94" stroke="#444444" stroke-width="1" fill="none"/>
<path d="M661.00 368.81L667.60 375.41M667.60 368.81L661.00 375.41" stroke="#444444" stroke-width="1" fill="none"/>
<path d="M696.80 307.73L703.40 314.33M703.40 307.73L696.80 314.33" stroke="#444444" stroke-width="1" fill="none"/>
<path d="M753.90 345.00H771.50" stroke="#5a5a5a" stroke-width="2.1"/>
<path d="M762.80 342.10L765.70 345.00L762.80 347.90L759.90 345.00Z" fill="#5a5a5a"/>
<text transform="translate(773.00 348.01) scale(0.89 1)" font-family="Liberation Sans, sans-serif" font-size="8.6" fill="#222222" stroke="#222" stroke-width="0.2">pH-5</text>
<path d="M753.90 360.90H771.50" stroke="#b4b4b4" stroke-width="2.1"/>
<rect x="759.90" y="358.00" width="5.80" height="5.80" fill="#b4b4b4"/>
<text transform="translate(773.00 363.91) scale(0.89 1)" font-family="Liberation Sans, sans-serif" font-size="8.6" fill="#222222" stroke="#222" stroke-width="0.2">pH7</text>
<path d="M753.90 376.80H771.50" stroke="#787878" stroke-width="2.1"/>
<path d="M762.80 373.75L765.70 379.56L759.90 379.56Z" fill="#787878"/>
<text transform="translate(773.00 379.81) scale(0.89 1)" font-family="Liberation Sans, sans-serif" font-size="8.6" fill="#222222" stroke="#222" stroke-width="0.2">pH9</text>
<path d="M753.90 392.70H771.50" stroke="#444444" stroke-width="2.1"/>
<path d="M759.50 389.40L766.10 396.00M766.10 389.40L759.50 396.00" stroke="#444444" stroke-width="1" fill="none"/>
<text transform="translate(773.00 395.71) scale(0.89 1)" font-family="Liberation Sans, sans-serif" font-size="8.6" fill="#222222" stroke="#222" stroke-width="0.2">pH11</text>
<text x="-0.2" y="508.9" textLength="18.20" lengthAdjust="spacingAndGlyphs" font-family="Liberation Sans, sans-serif" font-weight="bold" font-size="14" fill="#000">(e)</text>
<path d="M42.50 509.10V693.00H272.45" stroke="#8c8c8c" stroke-width="1" fill="none"/>
<path d="M39.90 693.00H42.50M39.90 674.61H42.50M39.90 656.22H42.50M39.90 637.83H42.50M39.90 619.44H42.50M39.90 601.05H42.50M39.90 582.66H42.50M39.90 564.27H42.50M39.90 545.88H42.50M39.90 527.49H42.50M39.90 509.10H42.50M42.50 693.00V695.60M119.15 693.00V695.60M195.80 693.00V695.60M272.45 693.00V695.60" stroke="#8c8c8c" stroke-width="1" fill="none"/>
<text transform="translate(33.70 696.08) scale(0.9 1)" text-anchor="end" font-family="Liberation Sans, sans-serif" font-size="8.8" fill="#222222" stroke="#222" stroke-width="0.2">0</text>
<text transform="translate(33.70 677.69) scale(0.9 1)" text-anchor="end" font-family="Liberation Sans, sans-serif" font-size="8.8" fill="#222222" stroke="#222" stroke-width="0.2">10</text>
<text transform="translate(33.70 659.30) scale(0.9 1)" text-anchor="end" font-family="Liberation Sans, sans-serif" font-size="8.8" fill="#222222" stroke="#222" stroke-width="0.2">20</text>
<text transform="translate(33.70 640.91) scale(0.9 1)" text-anchor="end" font-family="Liberation Sans, sans-serif" font-size="8.8" fill="#222222" stroke="#222" stroke-width="0.2">30</text>
<text transform="translate(33.70 622.52) scale(0.9 1)" text-anchor="end" font-family="Liberation Sans, sans-serif" font-size="8.8" fill="#222222" stroke="#222" stroke-width="0.2">40</text>
<text transform="translate(33.70 604.13) scale(0.9 1)" text-anchor="end" font-family="Liberation Sans, sans-serif" font-size="8.8" fill="#222222" stroke="#222" stroke-width="0.2">50</text>
<text transform="translate(33.70 585.74) scale(0.9 1)" text-anchor="end" font-family="Liberation Sans, sans-serif" font-size="8.8" fill="#222222" stroke="#222" stroke-width="0.2">60</text>
<text transform="translate(33.70 567.35) scale(0.9 1)" text-anchor="end" font-family="Liberation Sans, sans-serif" font-size="8.8" fill="#222222" stroke="#222" stroke-width="0.2">70</text>
<text transform="translate(33.70 548.96) scale(0.9 1)" text-anchor="end" font-family="Liberation Sans, sans-serif" font-size="8.8" fill="#222222" stroke="#222" stroke-width="0.2">80</text>
<text transform="translate(33.70 530.57) scale(0.9 1)" text-anchor="end" font-family="Liberation Sans, sans-serif" font-size="8.8" fill="#222222" stroke="#222" stroke-width="0.2">90</text>
<text transform="translate(33.70 512.18) scale(0.9 1)" text-anchor="end" font-family="Liberation Sans, sans-serif" font-size="8.8" fill="#222222" stroke="#222" stroke-width="0.2">100</text>
<text transform="translate(42.50 707.28) scale(0.9 1)" text-anchor="middle" font-family="Liberation Sans, sans-serif" font-size="8.8" fill="#222222" stroke="#222" stroke-width="0.2">0</text>
<text transform="translate(119.15 707.28) scale(0.9 1)" text-anchor="middle" font-family="Liberation Sans, sans-serif" font-size="8.8" fill="#222222" stroke="#222" stroke-width="0.2">5</text>
<text transform="translate(195.80 707.28) scale(0.9 1)" text-anchor="middle" font-family="Liberation Sans, sans-serif" font-size="8.8" fill="#222222" stroke="#222" stroke-width="0.2">10</text>
<text transform="translate(272.45 707.28) scale(0.9 1)" text-anchor="middle" font-family="Liberation Sans, sans-serif" font-size="8.8" fill="#222222" stroke="#222" stroke-width="0.2">15</text>
<text x="135.50" y="720.47" textLength="44.80" lengthAdjust="spacingAndGlyphs" font-family="Liberation Serif, serif" font-weight="bold" font-size="8.7" fill="#000">Time (Days)</text>
<text transform="translate(17.04 600.65) rotate(-90)" x="-44.85" y="0" textLength="89.70" lengthAdjust="spacingAndGlyphs" font-family="Liberation Serif, serif" font-weight="bold" font-size="9.2" fill="#000">Phenol degradation (%)</text>
<polyline points="42.50,693.00 73.16,693.00 103.82,693.00 134.48,693.00 165.14,590.75 195.80,534.29 226.46,517.19 257.12,514.07" stroke="#5a5a5a" stroke-width="2.1" fill="none" stroke-linejoin="round"/>
<polyline points="42.50,693.00 73.16,693.00 103.82,693.00 134.48,526.75 165.14,524.00 195.80,521.97 226.46,519.77 257.12,516.82" stroke="#b4b4b4" stroke-width="2.1" fill="none" stroke-linejoin="round"/>
<polyline points="42.50,693.00 73.16,693.00 103.82,693.00 134.48,580.45 165.14,526.75 195.80,516.64 226.46,516.82 257.12,514.98" stroke="#787878" stroke-width="2.1" fill="none" stroke-linejoin="round"/>
<path d="M134.48 577.14V583.76M165.14 587.99V593.69M195.80 512.59V525.47M195.80 528.41V539.08M226.46 511.31V523.81M257.12 509.47V521.97" stroke="#3a3a3a" stroke-width="0.8" fill="none"/>
<path d="M132.28 577.14H136.68M132.28 583.76H136.68M162.94 587.99H167.34M162.94 593.69H167.34M193.60 512.59H198.00M193.60 525.47H198.00M193.60 528.41H198.00M193.60 539.08H198.00M224.26 511.31H228.66M224.26 523.81H228.66M254.92 509.47H259.32M254.92 521.97H259.32" stroke="#1a1a1a" stroke-width="0.9" fill="none"/>
<path d="M42.50 689.70L45.80 693.00L42.50 696.30L39.20 693.00Z" fill="#5a5a5a"/>
<path d="M73.16 689.70L76.46 693.00L73.16 696.30L69.86 693.00Z" fill="#5a5a5a"/>
<path d="M103.82 689.70L107.12 693.00L103.82 696.30L100.52 693.00Z" fill="#5a5a5a"/>
<path d="M134.48 689.70L137.78 693.00L134.48 696.30L131.18 693.00Z" fill="#5a5a5a"/>
<path d="M165.14 587.45L168.44 590.75L165.14 594.05L161.84 590.75Z" fill="#5a5a5a"/>
<path d="M195.80 530.99L199.10 534.29L195.80 537.59L192.50 534.29Z" fill="#5a5a5a"/>
<path d="M226.46 513.89L229.76 517.19L226.46 520.49L223.16 517.19Z" fill="#5a5a5a"/>
<path d="M257.12 510.77L260.42 514.07L257.12 517.37L253.82 514.07Z" fill="#5a5a5a"/>
<rect x="39.20" y="689.70" width="6.60" height="6.60" fill="#b4b4b4"/>
<rect x="69.86" y="689.70" width="6.60" height="6.60" fill="#b4b4b4"/>
<rect x="100.52" y="689.70" width="6.60" height="6.60" fill="#b4b4b4"/>
<rect x="131.18" y="523.45" width="6.60" height="6.60" fill="#b4b4b4"/>
<rect x="161.84" y="520.70" width="6.60" height="6.60" fill="#b4b4b4"/>
<rect x="192.50" y="518.67" width="6.60" height="6.60" fill="#b4b4b4"/>
<rect x="223.16" y="516.47" width="6.60" height="6.60" fill="#b4b4b4"/>
<rect x="253.82" y="513.52" width="6.60" height="6.60" fill="#b4b4b4"/>
<path d="M42.50 689.53L45.80 696.13L39.20 696.13Z" fill="#787878"/>
<path d="M73.16 689.53L76.46 696.13L69.86 696.13Z" fill="#787878"/>
<path d="M103.82 689.53L107.12 696.13L100.52 696.13Z" fill="#787878"/>
<path d="M134.48 576.99L137.78 583.59L131.18 583.59Z" fill="#787878"/>
<path d="M165.14 523.29L168.44 529.89L161.84 529.89Z" fill="#787878"/>
<path d="M195.80 513.17L199.10 519.77L192.50 519.77Z" fill="#787878"/>
<path d="M226.46 513.36L229.76 519.96L223.16 519.96Z" fill="#787878"/>
<path d="M257.12 511.52L260.42 518.12L253.82 518.12Z" fill="#787878"/>
<path d="M308.60 602.00H326.50" stroke="#5a5a5a" stroke-width="2.1"/>
<path d="M317.40 599.10L320.30 602.00L317.40 604.90L314.50 602.00Z" fill="#5a5a5a"/>
<text transform="translate(328.00 605.15) scale(0.89 1)" font-family="Liberation Sans, sans-serif" font-size="9" fill="#222222" stroke="#222" stroke-width="0.2">2% inoculum</text>
<path d="M308.60 617.70H326.50" stroke="#b4b4b4" stroke-width="2.1"/>
<rect x="314.50" y="614.80" width="5.80" height="5.80" fill="#b4b4b4"/>
<text transform="translate(328.00 620.85) scale(0.89 1)" font-family="Liberation Sans, sans-serif" font-size="9" fill="#222222" stroke="#222" stroke-width="0.2">5% inoculum</text>
<path d="M308.60 633.90H326.50" stroke="#787878" stroke-width="2.1"/>
<path d="M317.40 630.86L320.30 636.65L314.50 636.65Z" fill="#787878"/>
<text transform="translate(328.00 637.05) scale(0.89 1)" font-family="Liberation Sans, sans-serif" font-size="9" fill="#222222" stroke="#222" stroke-width="0.2">10% inoculum</text>
<text x="402.0" y="509.0" textLength="14.70" lengthAdjust="spacingAndGlyphs" font-family="Liberation Sans, sans-serif" font-weight="bold" font-size="14" fill="#000">(f)</text>
<path d="M449.50 506.20V692.50H726.78" stroke="#8c8c8c" stroke-width="1" fill="none"/>
<path d="M446.90 692.50H449.50M446.90 669.21H449.50M446.90 645.92H449.50M446.90 622.64H449.50M446.90 599.35H449.50M446.90 576.06H449.50M446.90 552.77H449.50M446.90 529.49H449.50M446.90 506.20H449.50M449.50 692.50V695.10M484.16 692.50V695.10M518.82 692.50V695.10M553.48 692.50V695.10M588.14 692.50V695.10M622.80 692.50V695.10M657.46 692.50V695.10M692.12 692.50V695.10M726.78 692.50V695.10" stroke="#8c8c8c" stroke-width="1" fill="none"/>
<text transform="translate(441.00 695.58) scale(0.9 1)" text-anchor="end" font-family="Liberation Sans, sans-serif" font-size="8.8" fill="#222222" stroke="#222" stroke-width="0.2">0.000</text>
<text transform="translate(441.00 672.29) scale(0.9 1)" text-anchor="end" font-family="Liberation Sans, sans-serif" font-size="8.8" fill="#222222" stroke="#222" stroke-width="0.2">0.050</text>
<text transform="translate(441.00 649.00) scale(0.9 1)" text-anchor="end" font-family="Liberation Sans, sans-serif" font-size="8.8" fill="#222222" stroke="#222" stroke-width="0.2">0.100</text>
<text transform="translate(441.00 625.72) scale(0.9 1)" text-anchor="end" font-family="Liberation Sans, sans-serif" font-size="8.8" fill="#222222" stroke="#222" stroke-width="0.2">0.150</text>
<text transform="translate(441.00 602.43) scale(0.9 1)" text-anchor="end" font-family="Liberation Sans, sans-serif" font-size="8.8" fill="#222222" stroke="#222" stroke-width="0.2">0.200</text>
<text transform="translate(441.00 579.14) scale(0.9 1)" text-anchor="end" font-family="Liberation Sans, sans-serif" font-size="8.8" fill="#222222" stroke="#222" stroke-width="0.2">0.250</text>
<text transform="translate(441.00 555.86) scale(0.9 1)" text-anchor="end" font-family="Liberation Sans, sans-serif" font-size="8.8" fill="#222222" stroke="#222" stroke-width="0.2">0.300</text>
<text transform="translate(441.00 532.57) scale(0.9 1)" text-anchor="end" font-family="Liberation Sans, sans-serif" font-size="8.8" fill="#222222" stroke="#222" stroke-width="0.2">0.350</text>
<text transform="translate(441.00 509.28) scale(0.9 1)" text-anchor="end" font-family="Liberation Sans, sans-serif" font-size="8.8" fill="#222222" stroke="#222" stroke-width="0.2">0.400</text>
<text transform="translate(449.50 707.38) scale(0.9 1)" text-anchor="middle" font-family="Liberation Sans, sans-serif" font-size="8.8" fill="#222222" stroke="#222" stroke-width="0.2">0</text>
<text transform="translate(484.16 707.38) scale(0.9 1)" text-anchor="middle" font-family="Liberation Sans, sans-serif" font-size="8.8" fill="#222222" stroke="#222" stroke-width="0.2">2</text>
<text transform="translate(518.82 707.38) scale(0.9 1)" text-anchor="middle" font-family="Liberation Sans, sans-serif" font-size="8.8" fill="#222222" stroke="#222" stroke-width="0.2">4</text>
<text transform="translate(553.48 707.38) scale(0.9 1)" text-anchor="middle" font-family="Liberation Sans, sans-serif" font-size="8.8" fill="#222222" stroke="#222" stroke-width="0.2">6</text>
<text transform="translate(588.14 707.38) scale(0.9 1)" text-anchor="middle" font-family="Liberation Sans, sans-serif" font-size="8.8" fill="#222222" stroke="#222" stroke-width="0.2">8</text>
<text transform="translate(622.80 707.38) scale(0.9 1)" text-anchor="middle" font-family="Liberation Sans, sans-serif" font-size="8.8" fill="#222222" stroke="#222" stroke-width="0.2">10</text>
<text transform="translate(657.46 707.38) scale(0.9 1)" text-anchor="middle" font-family="Liberation Sans, sans-serif" font-size="8.8" fill="#222222" stroke="#222" stroke-width="0.2">12</text>
<text transform="translate(692.12 707.38) scale(0.9 1)" text-anchor="middle" font-family="Liberation Sans, sans-serif" font-size="8.8" fill="#222222" stroke="#222" stroke-width="0.2">14</text>
<text transform="translate(726.78 707.38) scale(0.9 1)" text-anchor="middle" font-family="Liberation Sans, sans-serif" font-size="8.8" fill="#222222" stroke="#222" stroke-width="0.2">16</text>
<text x="566.20" y="720.27" textLength="43.90" lengthAdjust="spacingAndGlyphs" font-family="Liberation Sans, sans-serif" font-weight="bold" font-size="8.4" fill="#000">Time (Days)</text>
<text transform="translate(417.27 599.40) rotate(-90)" x="-35.30" y="0" textLength="70.60" lengthAdjust="spacingAndGlyphs" font-family="Liberation Sans, sans-serif" font-weight="bold" font-size="8.4" fill="#000">Dry Biomass (gm/L)</text>
<polyline points="449.50,684.30 484.16,685.79 518.82,683.32 553.48,678.53 588.14,672.33 622.80,648.25 657.46,619.98 692.12,556.50" stroke="#5a5a5a" stroke-width="2.1" fill="none" stroke-linejoin="round"/>
<polyline points="449.50,683.32 484.16,682.81 518.82,675.73 553.48,665.35 588.14,613.79 622.80,645.46 657.46,613.32 692.12,548.58" stroke="#b4b4b4" stroke-width="2.1" fill="none" stroke-linejoin="round"/>
<polyline points="449.50,690.40 484.16,685.79 518.82,673.03 553.48,662.41 588.14,654.54 622.80,651.51 657.46,557.43 692.12,522.04" stroke="#787878" stroke-width="2.1" fill="none" stroke-linejoin="round"/>
<path d="M449.50 673.40V678.71M484.16 685.79V692.50M518.82 668.75V673.03M518.82 683.32V689.89M553.48 654.54V672.01M553.48 678.53V686.12M588.14 648.86V658.36M622.80 632.42V671.08M657.46 544.67V567.82M657.46 580.91V660.13M692.12 517.61V522.04M692.12 530.88V571.54" stroke="#3a3a3a" stroke-width="0.8" fill="none"/>
<path d="M449.50 673.40H451.70M449.50 678.71H451.70M481.96 685.79H486.36M481.96 692.50H486.36M516.62 668.75H521.02M516.62 673.03H521.02M516.62 683.32H521.02M516.62 689.89H521.02M551.28 654.54H555.68M551.28 672.01H555.68M551.28 678.53H555.68M551.28 686.12H555.68M585.94 648.86H590.34M585.94 658.36H590.34M620.60 632.42H625.00M620.60 634.47H625.00M620.60 658.97H625.00M620.60 671.08H625.00M655.26 544.67H659.66M655.26 567.82H659.66M655.26 580.91H659.66M655.26 605.40H659.66M655.26 660.13H659.66M689.92 517.61H694.32M689.92 522.04H694.32M689.92 530.88H694.32M689.92 541.13H694.32M689.92 566.75H694.32M689.92 571.54H694.32" stroke="#1a1a1a" stroke-width="0.9" fill="none"/>
<path d="M449.50 681.00L452.80 684.30L449.50 687.60L446.20 684.30Z" fill="#5a5a5a"/>
<path d="M484.16 682.49L487.46 685.79L484.16 689.09L480.86 685.79Z" fill="#5a5a5a"/>
<path d="M518.82 680.02L522.12 683.32L518.82 686.62L515.52 683.32Z" fill="#5a5a5a"/>
<path d="M553.48 675.23L556.78 678.53L553.48 681.83L550.18 678.53Z" fill="#5a5a5a"/>
<path d="M588.14 669.03L591.44 672.33L588.14 675.63L584.84 672.33Z" fill="#5a5a5a"/>
<path d="M622.80 644.95L626.10 648.25L622.80 651.55L619.50 648.25Z" fill="#5a5a5a"/>
<path d="M657.46 616.68L660.76 619.98L657.46 623.28L654.16 619.98Z" fill="#5a5a5a"/>
<path d="M692.12 553.20L695.42 556.50L692.12 559.80L688.82 556.50Z" fill="#5a5a5a"/>
<rect x="446.20" y="680.02" width="6.60" height="6.60" fill="#b4b4b4"/>
<rect x="480.86" y="679.51" width="6.60" height="6.60" fill="#b4b4b4"/>
<rect x="515.52" y="672.43" width="6.60" height="6.60" fill="#b4b4b4"/>
<rect x="550.18" y="662.05" width="6.60" height="6.60" fill="#b4b4b4"/>
<rect x="584.84" y="610.49" width="6.60" height="6.60" fill="#b4b4b4"/>
<rect x="619.50" y="642.16" width="6.60" height="6.60" fill="#b4b4b4"/>
<rect x="654.16" y="610.02" width="6.60" height="6.60" fill="#b4b4b4"/>
<rect x="688.82" y="545.28" width="6.60" height="6.60" fill="#b4b4b4"/>
<path d="M449.50 686.94L452.80 693.54L446.20 693.54Z" fill="#787878"/>
<path d="M484.16 682.33L487.46 688.93L480.86 688.93Z" fill="#787878"/>
<path d="M518.82 669.57L522.12 676.17L515.52 676.17Z" fill="#787878"/>
<path d="M553.48 658.95L556.78 665.55L550.18 665.55Z" fill="#787878"/>
<path d="M588.14 651.08L591.44 657.68L584.84 657.68Z" fill="#787878"/>
<path d="M622.80 648.05L626.10 654.65L619.50 654.65Z" fill="#787878"/>
<path d="M657.46 553.97L660.76 560.57L654.16 560.57Z" fill="#787878"/>
<path d="M692.12 518.57L695.42 525.17L688.82 525.17Z" fill="#787878"/>
<path d="M744.30 598.70H762.50" stroke="#5a5a5a" stroke-width="2.1"/>
<path d="M753.70 595.80L756.60 598.70L753.70 601.60L750.80 598.70Z" fill="#5a5a5a"/>
<text transform="translate(763.60 601.71) scale(0.89 1)" font-family="Liberation Sans, sans-serif" font-size="8.6" fill="#222222" stroke="#222" stroke-width="0.2">2% IS</text>
<path d="M744.30 614.70H762.50" stroke="#b4b4b4" stroke-width="2.1"/>
<rect x="750.80" y="611.80" width="5.80" height="5.80" fill="#b4b4b4"/>
<text transform="translate(763.60 617.71) scale(0.89 1)" font-family="Liberation Sans, sans-serif" font-size="8.6" fill="#222222" stroke="#222" stroke-width="0.2">5% IS</text>
<path d="M744.30 630.80H762.50" stroke="#787878" stroke-width="2.1"/>
<path d="M753.70 627.75L756.60 633.55L750.80 633.55Z" fill="#787878"/>
<text transform="translate(763.60 633.81) scale(0.89 1)" font-family="Liberation Sans, sans-serif" font-size="8.6" fill="#222222" stroke="#222" stroke-width="0.2">10% IS</text>
</svg>
</body></html>
